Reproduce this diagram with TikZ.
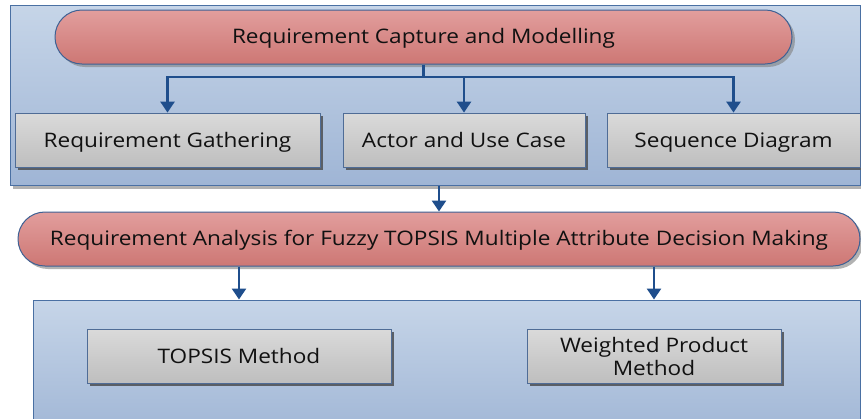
\documentclass[tikz,border=0pt]{standalone}
\usepackage{fontspec}
\setmainfont{Open Sans}[FakeStretch=1.13]
\usetikzlibrary{arrows.meta,shadows,calc}
\definecolor{panelTop}{HTML}{C6D5E8}
\definecolor{panelBot}{HTML}{9FB5D5}
\definecolor{panelLine}{HTML}{4A70A3}
\definecolor{pillTop}{HTML}{E29E9D}
\definecolor{pillBot}{HTML}{CD7774}
\definecolor{pillLine}{HTML}{3E6194}
\definecolor{grayTop}{HTML}{DADADA}
\definecolor{grayBot}{HTML}{BEBEBE}
\definecolor{grayLine}{HTML}{4F6C96}
\definecolor{arrowBlue}{HTML}{1F4E8C}
\definecolor{shadowCol}{HTML}{5A5F66}
\definecolor{textCol}{HTML}{111111}
\begin{document}
\begin{tikzpicture}[x=1pt,y=-1pt,
  panel/.style={draw=panelLine,line width=1pt,top color=panelTop,bottom color=panelBot,
    inner sep=0pt,drop shadow={shadow xshift=3pt,shadow yshift=-4pt,fill=gray,opacity=0.6}},
  pill/.style={draw=pillLine,line width=1pt,top color=pillTop,bottom color=pillBot,
    rounded corners=26.9pt,minimum height=54pt,inner sep=0pt,text=textCol,
    font=\fontsize{20}{22}\selectfont,text height=15.5pt,text depth=3pt,
    drop shadow={shadow xshift=3pt,shadow yshift=-3pt,fill=gray,opacity=0.6}},
  graybox/.style={draw=grayLine,line width=0.8pt,top color=grayTop,bottom color=grayBot,
    minimum height=54pt,inner sep=0pt,align=center,text=textCol,
    font=\fontsize{20}{23}\selectfont,
    drop shadow={shadow xshift=3pt,shadow yshift=-3pt,fill=shadowCol,opacity=1}},
  oneline/.style={text height=16.5pt,text depth=2.5pt},
  arr/.style={draw=arrowBlue,line width=2.6pt,-{Triangle[width=14pt,length=11pt]}},
  link/.style={draw=arrowBlue,line width=2.6pt}]
\clip (0,0) rectangle (861,418);
\fill[white] (0,0) rectangle (861,418);
% top panel
\node[panel,minimum width=850pt,minimum height=180pt] (panelA) at (435,95) {};
\node[pill,minimum width=737pt] (pill1) at (423.5,37) {Requirement Capture and Modelling};
\node[graybox,oneline,minimum width=305pt] (g1) at (167.5,140) {Requirement Gathering};
\node[graybox,oneline,minimum width=242pt] (g2) at (464,140) {Actor and Use Case};
\node[graybox,oneline,minimum width=253pt] (g3) at (733.5,140) {Sequence Diagram};
\coordinate (j1) at (423.5,77);
\draw[link] (pill1.south) -- (j1);
\draw[arr] (j1) -| (g1.north);
\draw[arr] (j1) -| (g2.north);
\draw[arr] (j1) -| (g3.north);
% middle pill
\node[pill,minimum width=842pt] (pill2) at (439,239) {Requirement Analysis for Fuzzy TOPSIS Multiple Attribute Decision Making};
\draw[arr] (panelA.south -| pill2.north) -- (pill2.north);
% bottom panel
\node[panel,minimum width=827pt,minimum height=140pt] (panelB) at (446.5,370) {};
\node[graybox,oneline,minimum width=304pt] (t1) at (239,356) {TOPSIS Method};
\node[graybox,minimum width=254pt] (t2) at (654,356) {Weighted Product\\Method};
\draw[arr] (pill2.south -| t1.north) -- (panelB.north -| t1.north);
\draw[arr] (pill2.south -| t2.north) -- (panelB.north -| t2.north);
\end{tikzpicture}
\end{document}
